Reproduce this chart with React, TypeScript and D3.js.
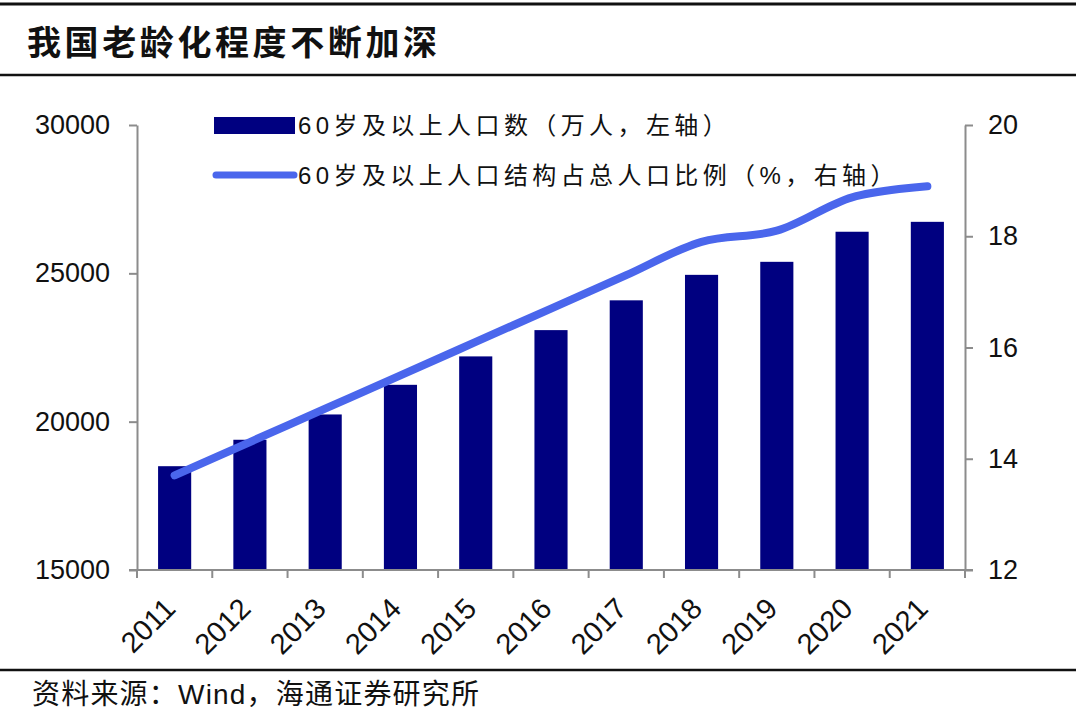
import React, { useEffect, useRef } from 'react'
import * as d3 from 'd3'

const years = ['2011', '2012', '2013', '2014', '2015', '2016', '2017', '2018', '2019', '2020', '2021']
const population = [18499, 19390, 20243, 21242, 22200, 23086, 24090, 24949, 25388, 26402, 26736]
const ratio = [13.7, 14.3, 14.9, 15.5, 16.1, 16.7, 17.3, 17.9, 18.1, 18.7, 18.9]
const leftTicks = [15000, 20000, 25000, 30000]
const rightTicks = [12, 14, 16, 18, 20]

const W = 1080
const H = 716
const FONT = '"Liberation Sans", Arial, "Noto Sans CJK SC", sans-serif'
const CJK = '"Noto Sans CJK SC", sans-serif'
const barColor = '#000080'
const lineColor = '#4A66EC'
const axisColor = '#8c8c8c'

export default function App() {
  const svgRef = useRef<SVGSVGElement>(null)

  useEffect(() => {
    if (!svgRef.current) return
    const svg = d3.select(svgRef.current)
    svg.selectAll('*').remove()

    const left = 137
    const right = 965
    const top = 125
    const bottom = 570

    const x = d3.scaleBand().domain(years).range([left, right]).paddingInner(0.56).paddingOuter(0.28)
    const yL = d3.scaleLinear().domain([15000, 30000]).range([bottom, top])
    const yR = d3.scaleLinear().domain([12, 20]).range([bottom, top])

    svg.append('rect').attr('width', W).attr('height', H).attr('fill', '#fff')

    // frame lines
    const rules = [4, 75, 670]
    rules.forEach((yy, i) => {
      svg.append('line')
        .attr('x1', 0).attr('x2', 1076)
        .attr('y1', yy).attr('y2', yy)
        .attr('stroke', '#111')
        .attr('stroke-width', i === 0 ? 3 : 2.5)
    })

    // title
    svg.append('text')
      .attr('x', 27).attr('y', 55)
      .attr('font-family', CJK)
      .attr('font-weight', 700)
      .attr('font-size', 34)
      .attr('letter-spacing', 3.6)
      .attr('fill', '#111')
      .text('我国老龄化程度不断加深')

    // bars
    svg.append('g').selectAll('rect')
      .data(population)
      .enter()
      .append('rect')
      .attr('x', (_, i) => x(years[i])!)
      .attr('width', x.bandwidth())
      .attr('y', d => yL(d))
      .attr('height', d => bottom - yL(d))
      .attr('fill', barColor)

    // line
    const line = d3.line<number>()
      .x((_, i) => x(years[i])! + x.bandwidth() / 2)
      .y(d => yR(d))
      .curve(d3.curveCatmullRom.alpha(0.5))
    svg.append('path')
      .attr('d', line(ratio))
      .attr('fill', 'none')
      .attr('stroke', lineColor)
      .attr('stroke-width', 8)
      .attr('stroke-linecap', 'round')
      .attr('stroke-linejoin', 'round')

    // left axis
    const gl = svg.append('g').attr('transform', `translate(${left},0)`)
      .call(d3.axisLeft(yL).tickValues(leftTicks).tickSize(8).tickSizeOuter(0).tickPadding(19).tickFormat(d3.format('d')))
    gl.select('.domain').attr('stroke', axisColor).attr('stroke-width', 2)
    gl.selectAll('.tick line').attr('stroke', axisColor).attr('stroke-width', 2)
    gl.selectAll('.tick text').attr('font-family', FONT).attr('font-size', 27).attr('fill', '#111')

    // right axis
    const gr = svg.append('g').attr('transform', `translate(${right},0)`)
      .call(d3.axisRight(yR).tickValues(rightTicks).tickSize(8).tickSizeOuter(0).tickPadding(15))
    gr.select('.domain').attr('stroke', axisColor).attr('stroke-width', 2)
    gr.selectAll('.tick line').attr('stroke', axisColor).attr('stroke-width', 2)
    gr.selectAll('.tick text').attr('font-family', FONT).attr('font-size', 27).attr('fill', '#111')

    // bottom axis
    const gb = svg.append('g').attr('transform', `translate(0,${bottom})`)
    gb.append('line').attr('x1', left - 8).attr('x2', right + 8).attr('y1', 0).attr('y2', 0)
      .attr('stroke', axisColor).attr('stroke-width', 2)
    const step = x.step()
    const bounds = d3.range(years.length + 1).map(i => left + i * step)
    gb.selectAll('line.tk').data(bounds).enter().append('line')
      .attr('class', 'tk')
      .attr('x1', d => d).attr('x2', d => d).attr('y1', 0).attr('y2', 8)
      .attr('stroke', axisColor).attr('stroke-width', 2)
    gb.selectAll('text').data(years).enter().append('text')
      .attr('transform', d => `translate(${x(d)! + x.bandwidth() / 2 - 3},${35}) rotate(-45)`)
      .attr('text-anchor', 'end')
      .attr('dominant-baseline', 'middle')
      .attr('font-family', FONT)
      .attr('font-size', 29)
      .attr('fill', '#111')
      .text(d => d)

    // legend
    const lg = svg.append('g')
    lg.append('rect').attr('x', 214).attr('y', 117).attr('width', 81).attr('height', 17).attr('fill', barColor)
    lg.append('line').attr('x1', 216).attr('x2', 294).attr('y1', 175).attr('y2', 175)
      .attr('stroke', lineColor).attr('stroke-width', 7).attr('stroke-linecap', 'round')
    lg.append('text').attr('x', 298).attr('y', 134)
      .attr('font-family', FONT).attr('font-size', 24).attr('fill', '#111')
      .attr('letter-spacing', 4.4)
      .text('60岁及以上人口数（万人，左轴）')
    lg.append('text').attr('x', 298).attr('y', 184)
      .attr('font-family', FONT).attr('font-size', 24).attr('fill', '#111')
      .attr('letter-spacing', 4.4)
      .text('60岁及以上人口结构占总人口比例（%，右轴）')

    // source
    svg.append('text')
      .attr('x', 32).attr('y', 704)
      .attr('font-family', FONT)
      .attr('font-size', 28)
      .attr('fill', '#111')
      .attr('letter-spacing', 1.2)
      .text('资料来源：Wind，海通证券研究所')
  }, [])

  return (
    <div style={{ position: 'absolute', left: 0, top: 0 }}>
      <svg ref={svgRef} width={W} height={H} />
    </div>
  )
}
